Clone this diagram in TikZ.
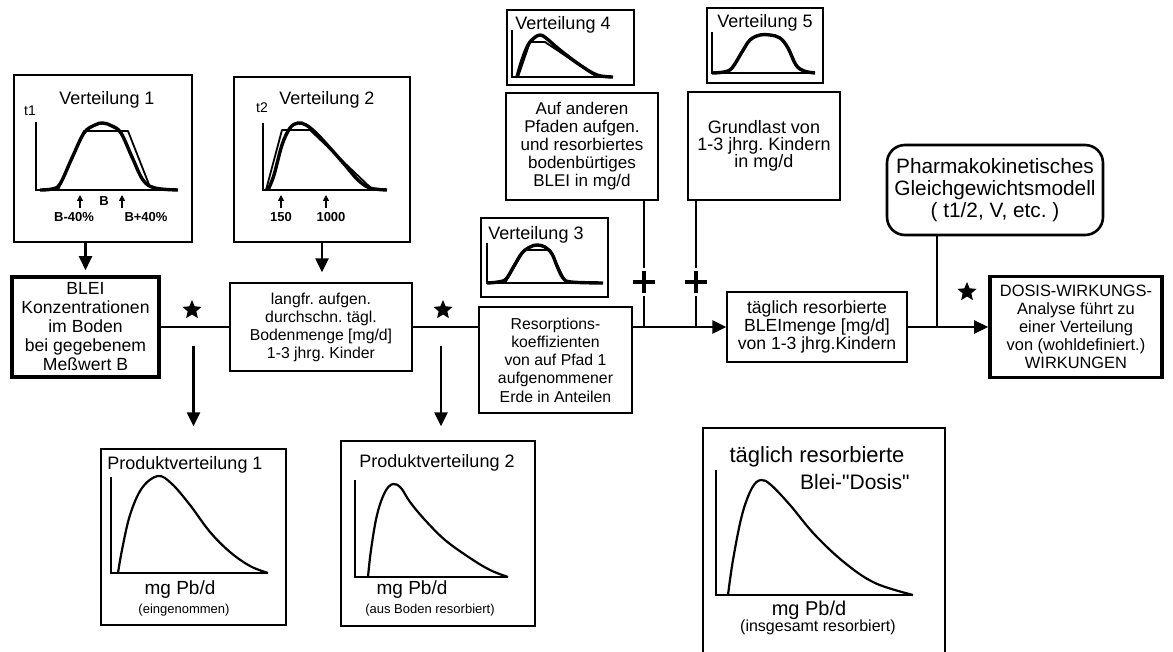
\documentclass[tikz,border=0pt]{standalone}
\usepackage{fontspec}
\setmainfont{Liberation Sans}
\usepackage{tikz}
\usetikzlibrary{arrows.meta, shapes.geometric}
\newcommand{\fsz}[2]{\fontsize{#1}{#2}\selectfont}
\frenchspacing
\tikzset{
  box/.style={
    rectangle, draw, line width=0.7pt,
    inner sep=1.5pt, align=center
  },
  thickbox/.style={box, line width=1.8pt},
  roundbox/.style={box, line width=1.3pt, rounded corners=9pt},
  chartbox/.style={rectangle, draw, line width=0.7pt},
  charttitle/.style={font=\fsz{9}{10}, inner sep=0pt},
  axislabel/.style={font=\fsz{7}{8}, inner sep=0pt},
  ticklabel/.style={font=\fsz{6.5}{7}\bfseries, inner sep=0pt},
  unitlabel/.style={font=\fsz{9.5}{10}, inner sep=0pt},
  notelabel/.style={font=\fsz{6.5}{7}, inner sep=0pt},
  axis/.style={line width=1pt},
  curve/.style={line width=1.7pt, line join=round},
  thincurve/.style={line width=0.9pt, line join=round},
  prodcurve/.style={line width=1.1pt, line join=round},
  conn/.style={line width=1.2pt},
  arrow/.style={conn, -{Triangle[length=7pt, width=6.5pt]}},
  tick/.style={line width=0.6pt, -{Triangle[length=3pt, width=3pt]}},
  joinstar/.style={star, star points=5, star point ratio=2.2, fill, inner sep=0pt, minimum size=10pt},
  plussign/.style={
    rectangle, minimum size=11pt, inner sep=0pt, outer sep=1.5pt,
    path picture={\draw[line width=2.2pt]
      (path picture bounding box.north) -- (path picture bounding box.south)
      (path picture bounding box.west) -- (path picture bounding box.east);}
  }
}

\begin{document}
\begin{tikzpicture}[x=0.5pt, y=-0.5pt]
  \useasboundingbox (0,0) rectangle (1173,652);
  \fill[white] (0,0) rectangle (1173,652);
  \clip (0,0) rectangle (1173,652);

  % Verteilung 1
  \node[chartbox, minimum width=89pt, minimum height=83.5pt] (vert1) at (103,158.5) {};
  \node[charttitle] (vert1t) at (107,100) {Verteilung 1};
  \node[axislabel] (vert1y) at (30,111) {t1};
  \draw[axis] (36,122) -- (36,190) -- (178,190);
  \draw[curve] plot[smooth, tension=0.6] coordinates {(40,190) (52,189) (60,184) (72,158) (84,133) (95,125) (103,123) (112,126) (121,133) (132,157) (143,180) (155,188) (178,190)};
  \draw[thincurve] (58,190) -- (84,131) -- (128,131) -- (150,187);
  \draw[tick] (80,208) -- (80,195);
  \draw[tick] (122,208) -- (122,195);
  \node[ticklabel] (vert1b) at (104,201) {B};
  \node[ticklabel] (vert1lo) at (74,217) {B-40\%};
  \node[ticklabel] (vert1hi) at (146,217) {B+40\%};

  % Verteilung 2
  \node[chartbox, minimum width=88pt, minimum height=82.5pt] (vert2) at (322,159.5) {};
  \node[charttitle] (vert2t) at (327,100) {Verteilung 2};
  \node[axislabel] (vert2y) at (262,108) {t2};
  \draw[axis] (263,123) -- (263,190) -- (387,190);
  \draw[curve] plot[smooth, tension=0.6] coordinates {(268,190) (274,175) (282,145) (290,128) (298,123) (306,125) (316,133) (330,148) (345,165) (358,180) (370,188) (387,190)};
  \draw[thincurve] (266,190) -- (282,130) -- (310,130) -- (373,190);
  \draw[tick] (281,208) -- (281,195);
  \draw[tick] (326,208) -- (326,195);
  \node[ticklabel] (vert2lo) at (281,217) {150};
  \node[ticklabel] (vert2hi) at (331,217) {1000};

  % Verteilung 3
  \node[chartbox, minimum width=63.5pt, minimum height=39.5pt] (vert3) at (544.5,257.5) {};
  \node[charttitle] (vert3t) at (536,235) {Verteilung 3};
  \draw[axis] (487,243) -- (487,283) -- (603,283);
  \draw[curve] plot[smooth, tension=0.6] coordinates {(487,283) (498,282) (506,279) (514,266) (522,253) (530,247) (537,245) (545,247) (552,254) (557,266) (563,278) (571,282) (603,283)};
  \draw[thincurve] (505,283) -- (524,250) -- (550,250) -- (566,283);

  % Verteilung 4
  \node[chartbox, minimum width=63.5pt, minimum height=37.5pt] (vert4) at (570.5,47.5) {};
  \node[charttitle] (vert4t) at (563,25) {Verteilung 4};
  \draw[axis] (512,30) -- (512,77) -- (613,77);
  \draw[curve] plot[smooth, tension=0.6] coordinates {(517,77) (522,60) (528,45) (534,38) (540,35) (546,38) (560,50) (580,65) (597,75) (613,77)};
  \draw[thincurve] (518,77) -- (530,42) -- (545,42) -- (597,77);

  % Verteilung 5
  \node[chartbox, minimum width=58pt, minimum height=37.5pt] (vert5) at (765,45.5) {};
  \node[charttitle] (vert5t) at (765,23) {Verteilung 5};
  \draw[axis] (712,32) -- (712,73) -- (815,73);
  \draw[curve] plot[smooth, tension=0.6] coordinates {(712,73) (724,72) (732,68) (742,52) (750,40) (760,35) (770,35) (780,38) (788,48) (796,65) (804,71) (815,73)};

  % main chain
  \node[thickbox, minimum width=73.5pt, minimum height=50pt, font=\fsz{8.8}{9.5}] (blei) at (85.5,327) {BLEI\\Konzentrationen\\im Boden\\bei gegebenem\\Meßwert B};
  \node[box, minimum width=91pt, minimum height=44pt, font=\fsz{7.9}{9}] (langfr) at (321,327) {langfr. aufgen.\\durchschn. tägl.\\Bodenmenge [mg/d]\\1-3 jhrg. Kinder};
  \node[box, minimum width=76.5pt, minimum height=53pt, font=\fsz{7.9}{9.1}] (resorp) at (555.5,360) {Resorptions-\\koeffizienten\\von auf Pfad 1\\aufgenommener\\Erde in Anteilen};
  \node[box, minimum width=76pt, minimum height=53.5pt, font=\fsz{8.5}{9}] (pfade) at (582,146.5) {Auf anderen\\Pfaden aufgen.\\und resorbiertes\\bodenbürtiges\\BLEI in mg/d};
  \node[box, minimum width=76pt, minimum height=54pt, font=\fsz{9}{8.5}] (grundlast) at (764,146) {Grundlast von\\1-3 jhrg. Kindern\\in mg/d};
  \node[box, minimum width=90pt, minimum height=35pt, font=\fsz{8.8}{8.8}] (tagl) at (817,327) {täglich resorbierte\\BLEImenge [mg/d]\\von 1-3 jhrg.Kindern};
  \node[roundbox, minimum width=108pt, minimum height=45pt, font=\fsz{10.4}{11}] (pharm) at (995,190) {Pharmakokinetisches\\Gleichgewichtsmodell\\( t1/2, V, etc. )};
  \node[thickbox, minimum width=86pt, minimum height=50.5pt, inner sep=0.5pt, font=\fsz{8.2}{9}] (dosis) at (1076,327) {DOSIS-WIRKUNGS-\\Analyse führt zu\\einer Verteilung\\von (wohldefiniert.)\\WIRKUNGEN};

  % Produktverteilung 1
  \node[chartbox, minimum width=92.5pt, minimum height=88pt] (prod1) at (193.5,537) {};
  \node[charttitle] (prod1t) at (185,465) {Produktverteilung 1};
  \draw[axis] (111,477) -- (111,573) -- (268,573);
  \draw[prodcurve] plot[smooth, tension=0.6] coordinates {(118,573) (122,550) (130,515) (142,488) (158,476) (172,484) (190,505) (210,532) (230,552) (250,566) (268,573)};
  \node[unitlabel] (prod1u) at (180,590) {mg Pb/d};
  \node[notelabel] (prod1n) at (184,610) {(eingenommen)};

  % Produktverteilung 2
  \node[chartbox, minimum width=97pt, minimum height=92.5pt] (prod2) at (438,533.5) {};
  \node[charttitle] (prod2t) at (437,463) {Produktverteilung 2};
  \draw[axis] (355,480) -- (355,577) -- (508,577);
  \draw[prodcurve] plot[smooth, tension=0.6] coordinates {(368,577) (371,550) (377,515) (385,492) (393,484) (401,488) (410,502) (425,520) (445,540) (470,558) (490,570) (508,577)};
  \node[unitlabel] (prod2u) at (412,590) {mg Pb/d};
  \node[notelabel] (prod2n) at (430,610) {(aus Boden resorbiert)};

  % resorbierte Dosis
  \node[chartbox, minimum width=121pt, minimum height=121pt] (resdosis) at (824,549) {};
  \node[charttitle, font=\fsz{11}{12}] (resdosist) at (817,457) {täglich resorbierte};
  \node[charttitle, font=\fsz{10.5}{12}, anchor=east] (resdosisb) at (910,482) {Blei-\textquotedbl Dosis\textquotedbl};
  \draw[axis] (716,470) -- (716,595) -- (913,595);
  \draw[prodcurve] plot[smooth, tension=0.6] coordinates {(728,595) (733,560) (742,515) (752,488) (761,480) (771,485) (790,505) (815,535) (845,563) (875,583) (913,595)};
  \node[unitlabel, font=\fsz{10}{11}] (resdosisu) at (809,610) {mg Pb/d};
  \node[notelabel, font=\fsz{8}{9}] (resdosisn) at (818,627) {(insgesamt resorbiert)};

  % arrows from the distributions
  \draw[arrow, shorten >=2.5pt] (blei.north |- vert1.south) -- (blei.north);
  \draw[arrow, shorten >=5pt] (vert2.south) -- (vert2.south |- langfr.north);

  % chain lines
  \draw[conn] (blei.east) -- (langfr.west);
  \draw[conn] (langfr.east) -- (langfr.east -| resorp.west);
  \draw[arrow] (resorp.east |- tagl.west) -- (tagl.west);
  \draw[arrow] (tagl.east) -- (dosis.west);

  \node[joinstar] (star1) at (192,310) {};
  \node[joinstar] (star2) at (443,310) {};
  \node[joinstar] (star3) at (967,292) {};

  % side inputs
  \coordinate (j4) at (644,327);
  \coordinate (j5) at (696,327);
  \coordinate (j6) at (937,327);
  \node[plussign] (plus4) at (644,282) {};
  \node[plussign] (plus5) at (696,282) {};
  \draw[conn] (pfade.south -| j4) -- (plus4) -- (j4);
  \draw[conn] (grundlast.south -| j5) -- (plus5) -- (j5);
  \draw[conn] (pharm.south -| j6) -- (j6);

  % product arrows
  \coordinate (d1) at (193.5,346);
  \coordinate (d2) at (441,346);
  \draw[arrow, shorten >=11pt] (d1) -- (d1 |- prod1.north);
  \draw[arrow, shorten >=7pt] (d2) -- (d2 |- prod2.north);
\end{tikzpicture}
\end{document}
